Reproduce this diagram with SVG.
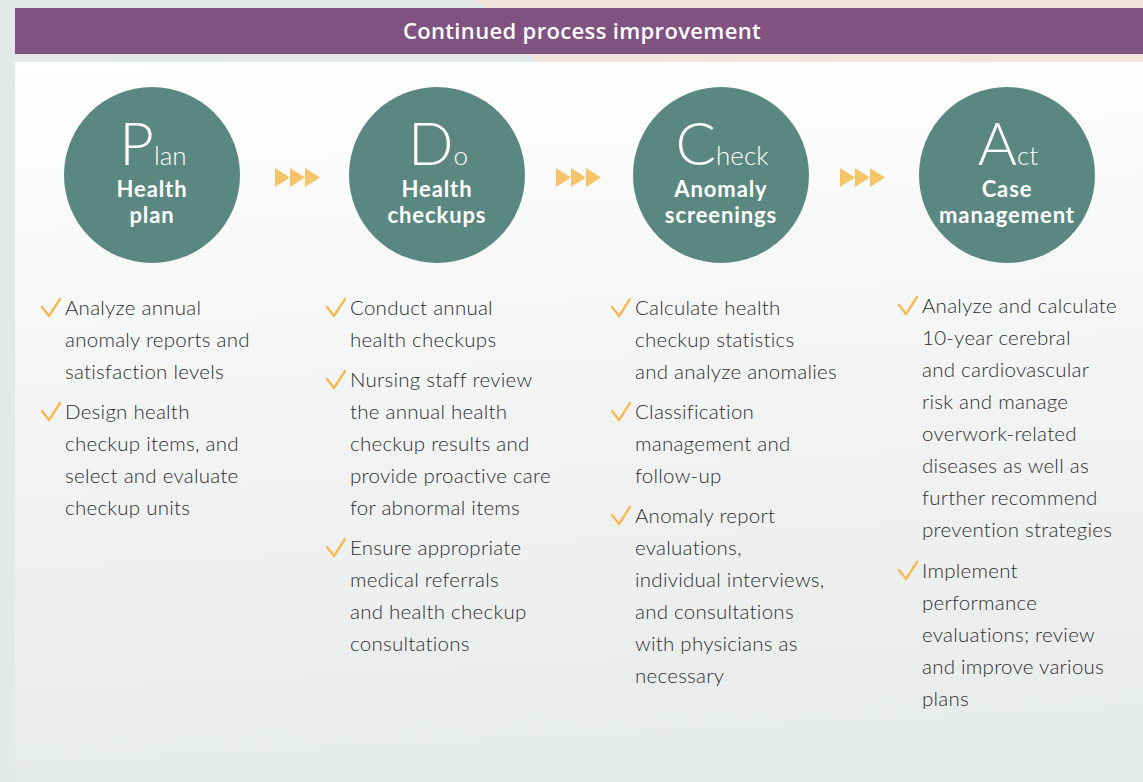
<svg xmlns="http://www.w3.org/2000/svg" width="1143" height="782" viewBox="0 0 1143 782">
<defs>
<linearGradient id="panelGrad" x1="0" y1="0" x2="0.08" y2="1">
<stop offset="0" stop-color="#ffffff"/>
<stop offset="0.3" stop-color="#f7f8f8"/>
<stop offset="1" stop-color="#e7ebea"/>
</linearGradient>
<path id="chev" d="M0,0 L15,9.5 L0,19 Z"/>
<path id="tick" d="M0,8 L7,17 L18,0"/>
</defs>
<style>
.bg{fill:#e3e9e8}
.pink{fill:#f2e4dc}
.bar{fill:#7f527f}
.title{font-family:"Open Sans","Liberation Sans",sans-serif;font-weight:600;font-size:22px;letter-spacing:0.35px;fill:#ffffff}
.circ{fill:#5a8880}
.big{font-family:Lato,"Liberation Sans",sans-serif;font-weight:300;fill:#ffffff}
.bl{font-size:60px}
.sm{font-size:26px}
.lbl{font-family:Lato,"Liberation Sans",sans-serif;font-weight:700;font-size:22px;letter-spacing:0.9px;fill:#ffffff;text-anchor:middle}
.body{font-family:Lato,"Liberation Sans",sans-serif;font-weight:300;font-size:20.5px;letter-spacing:0.25px;fill:#2e2e2e}
.ck{fill:none;stroke:#f5b955;stroke-width:2.4;stroke-linecap:round;stroke-linejoin:round}
.chev{fill:#f6c469}
</style>
<rect class="bg" x="0" y="0" width="1143" height="782"/>
<polygon class="pink" points="477,0 1143,0 1143,62 536,62"/>
<rect class="bar" x="15" y="8" width="1128" height="46"/>
<text class="title" x="582" y="39" text-anchor="middle">Continued process improvement</text>
<rect x="15" y="62" width="1128" height="720" fill="url(#panelGrad)"/>

<g id="connectors">
<use href="#chev" class="chev" x="275" y="168"/><use href="#chev" class="chev" x="290" y="168"/><use href="#chev" class="chev" x="305" y="168"/>
<use href="#chev" class="chev" x="556" y="168"/><use href="#chev" class="chev" x="571" y="168"/><use href="#chev" class="chev" x="586" y="168"/>
<use href="#chev" class="chev" x="840" y="168"/><use href="#chev" class="chev" x="855" y="168"/><use href="#chev" class="chev" x="870" y="168"/>
</g>

<g id="plan">
<circle class="circ" cx="152" cy="175" r="88"/>
<text class="big" x="153" y="165" text-anchor="middle"><tspan class="bl">P</tspan><tspan class="sm">lan</tspan></text>
<text class="lbl" x="152" y="197">Health</text>
<text class="lbl" x="152" y="223">plan</text>
</g>
<g id="do">
<circle class="circ" cx="437" cy="175" r="88"/>
<text class="big" x="438" y="165" text-anchor="middle"><tspan class="bl">D</tspan><tspan class="sm">o</tspan></text>
<text class="lbl" x="437" y="197">Health</text>
<text class="lbl" x="437" y="223">checkups</text>
</g>
<g id="check">
<circle class="circ" cx="721" cy="175" r="88"/>
<text class="big" x="722" y="165" text-anchor="middle"><tspan class="bl">C</tspan><tspan class="sm">heck</tspan></text>
<text class="lbl" x="721" y="197">Anomaly</text>
<text class="lbl" x="721" y="223">screenings</text>
</g>
<g id="act">
<circle class="circ" cx="1007" cy="175" r="88"/>
<text class="big" x="1008" y="165" text-anchor="middle"><tspan class="bl">A</tspan><tspan class="sm">ct</tspan></text>
<text class="lbl" x="1007" y="197">Case</text>
<text class="lbl" x="1007" y="223">management</text>
</g>

<g id="plan-items">
<use href="#tick" class="ck" x="42" y="299"/>
<use href="#tick" class="ck" x="42" y="403"/>
<text class="body"><tspan x="65" y="315">Analyze annual</tspan><tspan x="65" y="347">anomaly reports and</tspan><tspan x="65" y="379">satisfaction levels</tspan><tspan x="65" y="419">Design health</tspan><tspan x="65" y="451">checkup items, and</tspan><tspan x="65" y="483">select and evaluate</tspan><tspan x="65" y="515">checkup units</tspan></text>
</g>
<g id="do-items">
<use href="#tick" class="ck" x="327" y="299"/>
<use href="#tick" class="ck" x="327" y="371"/>
<use href="#tick" class="ck" x="327" y="539"/>
<text class="body"><tspan x="350" y="315">Conduct annual</tspan><tspan x="350" y="347">health checkups</tspan><tspan x="350" y="387">Nursing staff review</tspan><tspan x="350" y="419">the annual health</tspan><tspan x="350" y="451">checkup results and</tspan><tspan x="350" y="483">provide proactive care</tspan><tspan x="350" y="515">for abnormal items</tspan><tspan x="350" y="555">Ensure appropriate</tspan><tspan x="350" y="587">medical referrals</tspan><tspan x="350" y="619">and health checkup</tspan><tspan x="350" y="651">consultations</tspan></text>
</g>
<g id="check-items">
<use href="#tick" class="ck" x="612" y="299"/>
<use href="#tick" class="ck" x="612" y="403"/>
<use href="#tick" class="ck" x="612" y="507"/>
<text class="body"><tspan x="635" y="315">Calculate health</tspan><tspan x="635" y="347">checkup statistics</tspan><tspan x="635" y="379">and analyze anomalies</tspan><tspan x="635" y="419">Classification</tspan><tspan x="635" y="451">management and</tspan><tspan x="635" y="483">follow-up</tspan><tspan x="635" y="523">Anomaly report</tspan><tspan x="635" y="555">evaluations,</tspan><tspan x="635" y="587">individual interviews,</tspan><tspan x="635" y="619">and consultations</tspan><tspan x="635" y="651">with physicians as</tspan><tspan x="635" y="683">necessary</tspan></text>
</g>
<g id="act-items">
<use href="#tick" class="ck" x="899" y="297"/>
<use href="#tick" class="ck" x="899" y="562"/>
<text class="body"><tspan x="922" y="313">Analyze and calculate</tspan><tspan x="922" y="345">10-year cerebral</tspan><tspan x="922" y="377">and cardiovascular</tspan><tspan x="922" y="409">risk and manage</tspan><tspan x="922" y="441">overwork-related</tspan><tspan x="922" y="473">diseases as well as</tspan><tspan x="922" y="505">further recommend</tspan><tspan x="922" y="537">prevention strategies</tspan><tspan x="922" y="578">Implement</tspan><tspan x="922" y="610">performance</tspan><tspan x="922" y="642">evaluations; review</tspan><tspan x="922" y="674">and improve various</tspan><tspan x="922" y="706">plans</tspan></text>
</g>
</svg>
